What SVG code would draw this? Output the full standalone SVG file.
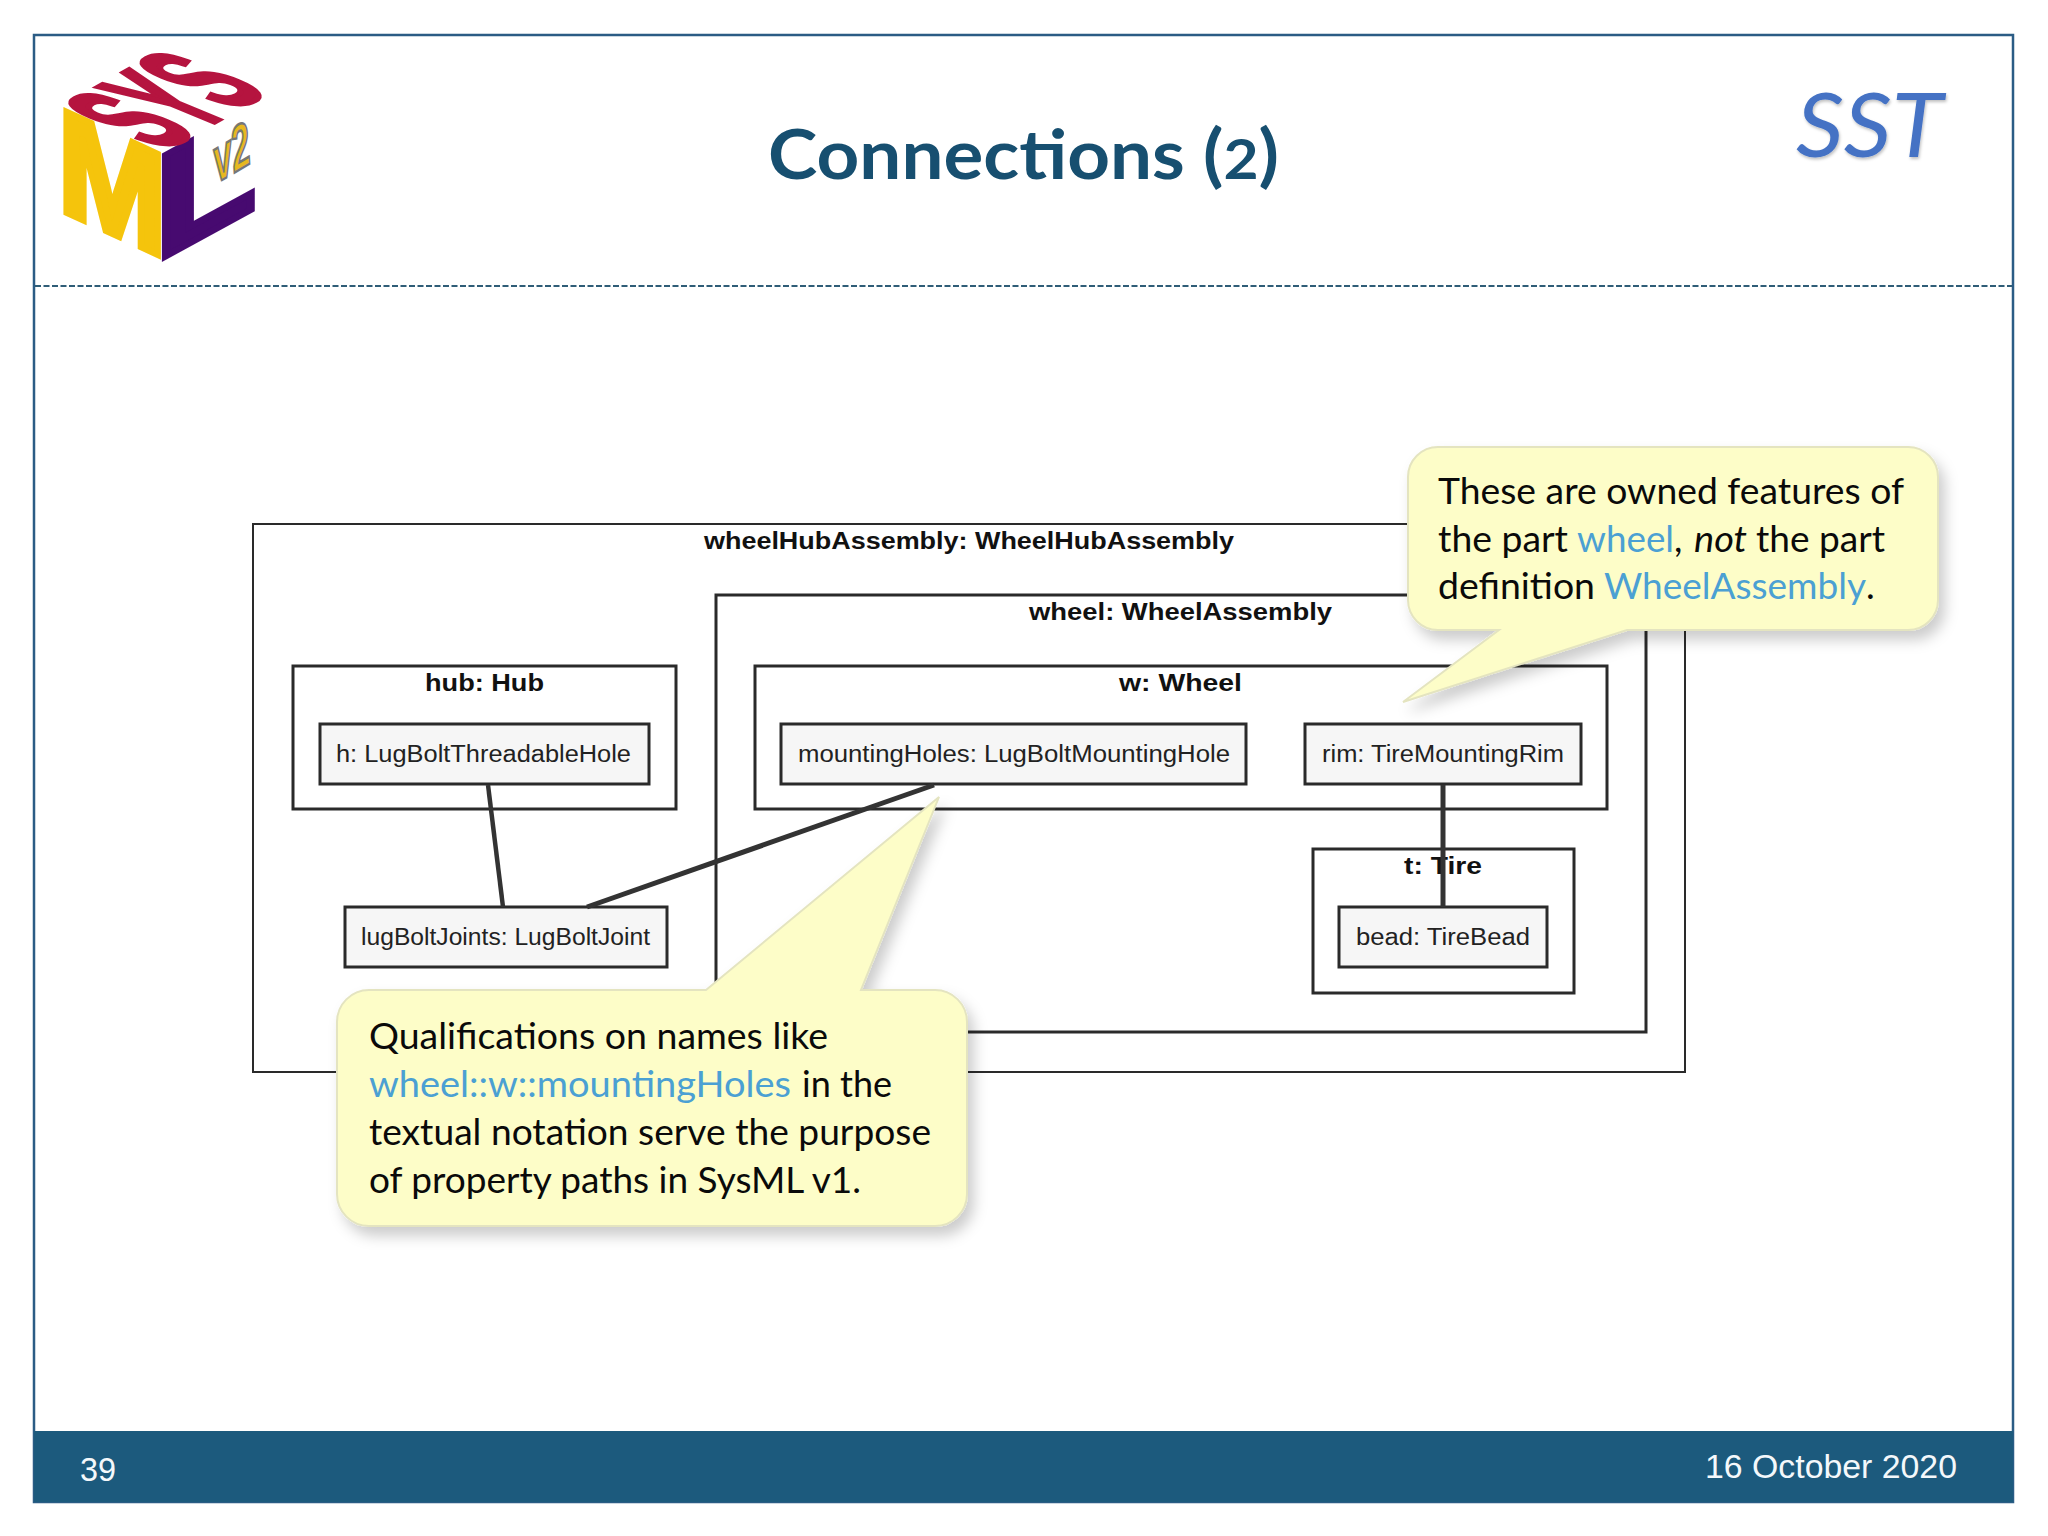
<svg xmlns="http://www.w3.org/2000/svg" width="2048" height="1536" viewBox="0 0 2048 1536">
<style>
.b{fill:none;stroke:#2a2a2a;stroke-width:3}
.o{fill:none;stroke:#2a2a2a;stroke-width:2}
.p{fill:#f6f6f6;stroke:#2a2a2a;stroke-width:3}
.h{font:bold 23px "Liberation Sans",Arial,sans-serif;fill:#111}
.l{font:23px "Liberation Sans",Arial,sans-serif;fill:#222}
.c{font:37px Lato,"Open Sans",sans-serif;fill:#0a0a0a}
.k{fill:#4ba0d3}
.cn{stroke:#333;fill:none}
.co{fill:#fdfdc8;stroke:#e4e4c0;stroke-width:2;filter:url(#sh)}
.f{font:34px "Liberation Sans",Arial,sans-serif;fill:#f4f8fb}
</style>
<defs>
<filter id="sh" x="-10%" y="-10%" width="125%" height="130%"><feDropShadow dx="6" dy="9" stdDeviation="7" flood-color="#000" flood-opacity="0.2"/></filter>
<filter id="ss" x="-10%" y="-10%" width="120%" height="125%"><feDropShadow dx="1" dy="2" stdDeviation="1.5" flood-color="#000" flood-opacity="0.25"/></filter>
</defs>
<rect width="2048" height="1536" fill="#fff"/>
<g id="frame">
<rect x="34" y="35" width="1979" height="1467" fill="#fff" stroke="#2b5c85" stroke-width="2.5"/>
<line x1="35" y1="286" x2="2012" y2="286" stroke="#2f5d77" stroke-width="2" stroke-dasharray="6 2.5"/>
<rect x="34" y="1431" width="1979" height="71" fill="#1c5a7d"/>
<text class="f" x="80" y="1481" textLength="36" lengthAdjust="spacingAndGlyphs">39</text>
<text class="f" x="1705" y="1478" textLength="252" lengthAdjust="spacingAndGlyphs">16 October 2020</text>
</g>
<g id="logo">
<text transform="matrix(1.3 0.6 0 1.46 58 208.6)" style="font:bold 100px 'Liberation Sans',sans-serif" fill="#f5c40c" stroke="#f5c40c" stroke-width="5">M</text>
<text transform="matrix(1.65 -0.9 0 1.47 155 262)" style="font:bold 100px 'Liberation Sans',sans-serif" fill="#470a70" stroke="#470a70" stroke-width="5">L</text>
<text transform="matrix(0.535 -0.30 1.5 0.62 163 151)" style="font:bold 100px 'Liberation Sans',sans-serif" fill="#b5143f" stroke="#b5143f" stroke-width="4">SYS</text>
<text transform="matrix(0.32 -0.19 0.1 0.6 217 183)" style="font:italic bold 100px 'Liberation Sans',sans-serif" fill="#e7b820" stroke="#777" stroke-width="4">v2</text>
</g>
<text id="title" x="768" y="179" textLength="511" lengthAdjust="spacingAndGlyphs" style="font:bold 69px Lato,'Open Sans',sans-serif" fill="#174f70">Connections (<tspan style="font-size:56px">2</tspan>)</text>
<text id="sst" x="1796" y="157" textLength="147" lengthAdjust="spacingAndGlyphs" style="font:italic 89px Lato,'Open Sans',sans-serif" fill="#4472c4" filter="url(#ss)">SST</text>
<g id="wheelHubAssembly"><rect class="o" x="253" y="524" width="1432" height="548"/><text class="h" x="704" y="549" textLength="530" lengthAdjust="spacingAndGlyphs">wheelHubAssembly: WheelHubAssembly</text></g>
<g id="wheel"><rect class="b" x="716" y="595" width="930" height="437"/><text class="h" x="1029" y="620" textLength="303" lengthAdjust="spacingAndGlyphs">wheel: WheelAssembly</text></g>
<g id="hub"><rect class="b" x="293" y="666" width="383" height="143"/><text class="h" x="425" y="691" textLength="119" lengthAdjust="spacingAndGlyphs">hub: Hub</text></g>
<g id="w"><rect class="b" x="755" y="666" width="852" height="143"/><text class="h" x="1119" y="691" textLength="123" lengthAdjust="spacingAndGlyphs">w: Wheel</text></g>
<g id="t"><rect class="b" x="1313" y="849" width="261" height="144"/><text class="h" x="1404" y="874" textLength="78" lengthAdjust="spacingAndGlyphs">t: Tire</text></g>
<g id="h"><rect class="p" x="320" y="724" width="329" height="60"/><text class="l" x="336" y="762" textLength="295" lengthAdjust="spacingAndGlyphs">h: LugBoltThreadableHole</text></g>
<g id="mountingHoles"><rect class="p" x="781" y="724" width="465" height="60"/><text class="l" x="798" y="762" textLength="432" lengthAdjust="spacingAndGlyphs">mountingHoles: LugBoltMountingHole</text></g>
<g id="rim"><rect class="p" x="1305" y="724" width="276" height="60"/><text class="l" x="1322" y="762" textLength="242" lengthAdjust="spacingAndGlyphs">rim: TireMountingRim</text></g>
<g id="lugBoltJoints"><rect class="p" x="345" y="907" width="322" height="60"/><text class="l" x="361" y="945" textLength="289" lengthAdjust="spacingAndGlyphs">lugBoltJoints: LugBoltJoint</text></g>
<g id="bead"><rect class="p" x="1339" y="907" width="208" height="60"/><text class="l" x="1356" y="945" textLength="174" lengthAdjust="spacingAndGlyphs">bead: TireBead</text></g>
<g id="connectors">
<line class="cn" x1="488" y1="785" x2="503" y2="907" stroke-width="4.5"/>
<line class="cn" x1="934" y1="785" x2="587" y2="907" stroke-width="5"/>
<line class="cn" x1="1443" y1="785" x2="1443" y2="907" stroke-width="5"/>
</g>
<g id="callout1">
<path class="co" d="M1438 447H1908A30 30 0 0 1 1938 477V600A30 30 0 0 1 1908 630H1627L1403 702L1499 630H1438A30 30 0 0 1 1408 600V477A30 30 0 0 1 1438 447Z"/>
<text class="c" y="504"><tspan x="1438" textLength="466" lengthAdjust="spacingAndGlyphs">These are owned features of</tspan></text>
<text class="c" y="552"><tspan x="1438" textLength="130" lengthAdjust="spacingAndGlyphs">the part</tspan><tspan class="k" x="1577" textLength="97" lengthAdjust="spacingAndGlyphs">wheel</tspan><tspan x="1674">,</tspan><tspan x="1694" font-style="italic" textLength="53" lengthAdjust="spacingAndGlyphs">not</tspan><tspan x="1756" textLength="129" lengthAdjust="spacingAndGlyphs">the part</tspan></text>
<text class="c" y="599"><tspan x="1438" textLength="157" lengthAdjust="spacingAndGlyphs">definition</tspan><tspan class="k" x="1604" textLength="262" lengthAdjust="spacingAndGlyphs">WheelAssembly</tspan><tspan x="1866">.</tspan></text>
</g>
<g id="callout2">
<path class="co" d="M369 990H706L939 797L861 990H935A32 32 0 0 1 967 1022V1194A32 32 0 0 1 935 1226H369A32 32 0 0 1 337 1194V1022A32 32 0 0 1 369 990Z"/>
<text class="c" y="1049"><tspan x="369" textLength="459" lengthAdjust="spacingAndGlyphs">Qualifications on names like</tspan></text>
<text class="c" y="1097"><tspan class="k" x="369" textLength="422" lengthAdjust="spacingAndGlyphs">wheel::w::mountingHoles</tspan><tspan x="802" textLength="90" lengthAdjust="spacingAndGlyphs">in the</tspan></text>
<text class="c" y="1145"><tspan x="369" textLength="562" lengthAdjust="spacingAndGlyphs">textual notation serve the purpose</tspan></text>
<text class="c" y="1193"><tspan x="369" textLength="492" lengthAdjust="spacingAndGlyphs">of property paths in SysML v1.</tspan></text>
</g>
</svg>
